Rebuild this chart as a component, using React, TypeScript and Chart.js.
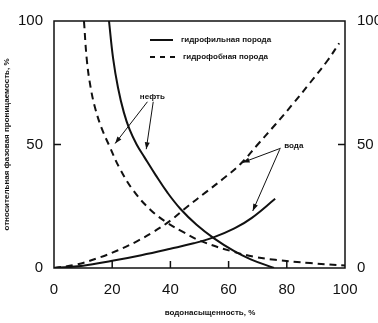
import React, { useEffect, useRef } from "react";
import { Chart, registerables } from "chart.js";

Chart.register(...registerables);

// ---- data ----
const xTickStep = 20;
const yTickStep = 50;

const hydrophilicOilX = [18.9, 20.3, 22, 24, 26, 28.4, 31, 35, 39, 43.4, 49, 55, 61.8, 67.6, 75.6];
const hydrophilicOilY = [100, 85, 73, 63, 56, 50, 45, 37.5, 30.5, 24, 17.5, 12, 6.9, 3.5, 0];

const hydrophilicWaterX = [0, 10, 20, 30, 40, 48, 55, 62, 68, 76];
const hydrophilicWaterY = [0, 0.9, 2.9, 5.2, 7.8, 10, 12.5, 16, 20.3, 28];

const hydrophobicOilX = [10.3, 11.3, 12.6, 14.2, 16.4, 19, 22.5, 27.3, 33.1, 38.9, 44, 50.3, 60.7, 68.7, 76, 88, 100];
const hydrophobicOilY = [100, 84, 73, 64.5, 56.5, 49.5, 40.5, 31.3, 23.6, 18.3, 14.8, 11, 6.9, 4.6, 3.3, 2, 1];

const hydrophobicWaterX = [0, 8, 16, 22, 28, 34, 40, 46, 52, 58, 64, 70, 76, 82, 88, 94, 98];
const hydrophobicWaterY = [0, 1.5, 4.4, 7.2, 10.5, 14.5, 19.2, 25, 30.5, 36, 42, 50, 58, 66.3, 75, 84, 91];

const legendLabels = ["гидрофильная порода", "гидрофобная порода"];
const yTitle = "относительная фазовая проницаемость, %";
const xTitle = "водонасыщенность, %";

// annotation labels with arrows (data coordinates)
const oilLabel = { text: "нефть", x: 33.8, y: 69.2 };
const oilArrows = [
  [32.1, 67.3, 21.0, 50.4],
  [34.1, 67.3, 31.7, 48.1],
];
const waterLabel = { text: "вода", x: 82.4, y: 49.6 };
const waterArrows = [
  [77.9, 48.5, 64.8, 42.7],
  [77.6, 48.1, 68.3, 23.1],
];

const pts = (xs: number[], ys: number[]) => xs.map((x, i) => ({ x, y: ys[i] }));

const tickFont = { family: "'Liberation Sans Narrow', 'Liberation Sans', Arial", size: 15 };
const smallFont = "bold 8px 'Liberation Sans', Arial";

function drawArrow(ctx: CanvasRenderingContext2D, x1: number, y1: number, x2: number, y2: number) {
  ctx.beginPath();
  ctx.moveTo(x1, y1);
  ctx.lineTo(x2, y2);
  ctx.stroke();
  const a = Math.atan2(y2 - y1, x2 - x1);
  const L = 7, W = 2.5;
  ctx.beginPath();
  ctx.moveTo(x2, y2);
  ctx.lineTo(x2 - L * Math.cos(a) + W * Math.sin(a), y2 - L * Math.sin(a) - W * Math.cos(a));
  ctx.lineTo(x2 - L * Math.cos(a) - W * Math.sin(a), y2 - L * Math.sin(a) + W * Math.cos(a));
  ctx.closePath();
  ctx.fill();
}

const decorPlugin = {
  id: "decor",
  afterDraw(chart: any) {
    const { ctx, chartArea: ca, scales } = chart;
    const xs = scales.x, ys = scales.y;
    ctx.save();
    ctx.strokeStyle = "#111";
    ctx.fillStyle = "#111";
    // frame
    ctx.lineWidth = 1.5;
    ctx.strokeRect(ca.left, ca.top, ca.right - ca.left, ca.bottom - ca.top);
    // inward ticks
    ctx.beginPath();
    for (let v = xTickStep; v < 100; v += xTickStep) {
      const px = xs.getPixelForValue(v);
      ctx.moveTo(px, ca.bottom);
      ctx.lineTo(px, ca.bottom - 7);
    }
    const py50 = ys.getPixelForValue(yTickStep);
    ctx.moveTo(ca.left, py50);
    ctx.lineTo(ca.left + 7, py50);
    ctx.moveTo(ca.right, py50);
    ctx.lineTo(ca.right - 7, py50);
    ctx.stroke();

    // legend
    ctx.lineWidth = 2;
    const lx0 = ca.left + 96, lx1 = ca.left + 119;
    const ly = [ca.top + 19, ca.top + 36];
    ctx.beginPath();
    ctx.moveTo(lx0, ly[0]);
    ctx.lineTo(lx1, ly[0]);
    ctx.stroke();
    ctx.setLineDash([5, 5]);
    ctx.beginPath();
    ctx.moveTo(lx0, ly[1]);
    ctx.lineTo(lx1 + 2, ly[1]);
    ctx.stroke();
    ctx.setLineDash([]);
    ctx.font = smallFont;
    ctx.textBaseline = "middle";
    ctx.textAlign = "left";
    ctx.fillText(legendLabels[0], lx1 + 8, ly[0]);
    ctx.fillText(legendLabels[1], lx1 + 10, ly[1]);

    // annotations
    ctx.textAlign = "center";
    ctx.fillText(oilLabel.text, xs.getPixelForValue(oilLabel.x), ys.getPixelForValue(oilLabel.y));
    ctx.fillText(waterLabel.text, xs.getPixelForValue(waterLabel.x), ys.getPixelForValue(waterLabel.y));
    ctx.lineWidth = 1;
    for (const a of [...oilArrows, ...waterArrows]) {
      drawArrow(ctx, xs.getPixelForValue(a[0]), ys.getPixelForValue(a[1]), xs.getPixelForValue(a[2]), ys.getPixelForValue(a[3]));
    }

    // x title
    ctx.fillText(xTitle, ca.left + 156, chart.height - 10);
    ctx.restore();
  },
};

export default function App() {
  const ref = useRef<HTMLCanvasElement | null>(null);
  useEffect(() => {
    document.body.style.margin = "0";
    const solid = { borderColor: "#111", borderWidth: 2, pointRadius: 0, fill: false, tension: 0.4 };
    const dashed = { ...solid, borderDash: [7, 5] };
    const chart = new Chart(ref.current!, {
      type: "line",
      data: {
        datasets: [
          { label: legendLabels[0], data: pts(hydrophilicOilX, hydrophilicOilY), ...solid },
          { label: legendLabels[0], data: pts(hydrophilicWaterX, hydrophilicWaterY), ...solid },
          { label: legendLabels[1], data: pts(hydrophobicOilX, hydrophobicOilY), ...dashed },
          { label: legendLabels[1], data: pts(hydrophobicWaterX, hydrophobicWaterY), ...dashed },
        ],
      },
      options: {
        animation: false,
        responsive: false,
        layout: { padding: { top: 7, left: 0, right: 0, bottom: 0 } },
        plugins: { legend: { display: false }, tooltip: { enabled: false } },
        scales: {
          x: {
            type: "linear",
            min: 0,
            max: 100,
            grid: { display: false, drawTicks: false },
            border: { display: false },
            ticks: { stepSize: xTickStep, color: "#111", font: tickFont, padding: 13 },
            afterFit: (s: any) => { s.height = 55; },
          },
          y: {
            position: "left",
            min: 0,
            max: 100,
            grid: { display: false, drawTicks: false },
            border: { display: false },
            ticks: { stepSize: yTickStep, color: "#111", font: tickFont, padding: 11 },
            title: { display: true, text: yTitle, color: "#111", font: { family: "'Liberation Sans', Arial", size: 8, weight: "bold" }, padding: { top: 2, bottom: 0 } },
            afterFit: (s: any) => { s.width = 54; },
          },
          y2: {
            position: "right",
            min: 0,
            max: 100,
            grid: { display: false, drawTicks: false },
            border: { display: false },
            ticks: { stepSize: yTickStep, color: "#111", font: tickFont, padding: 12 },
            afterFit: (s: any) => { s.width = 33; },
          },
        },
      },
      plugins: [decorPlugin],
    });
    return () => chart.destroy();
  }, []);
  return <canvas ref={ref} width={378} height={323} style={{ display: "block" }} />;
}
